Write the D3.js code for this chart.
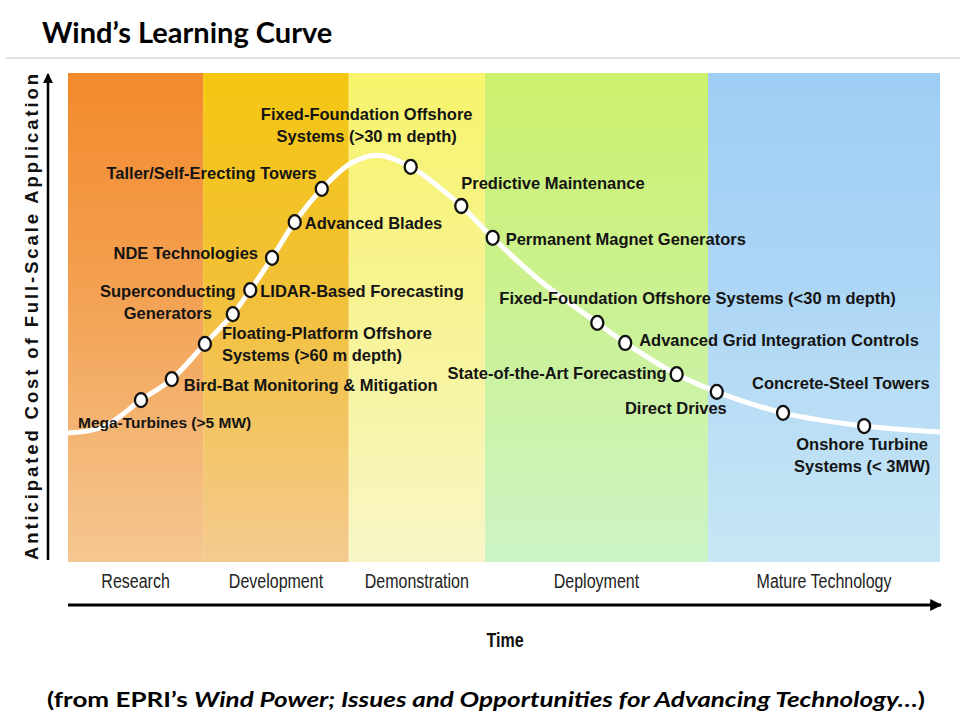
<!DOCTYPE html>
<html>
<head>
<meta charset="utf-8">
<script src="https://cdn.jsdelivr.net/npm/d3@7"></script>
<style>
  html, body { margin: 0; padding: 0; background: #fff; }
  svg { display: block; }
</style>
</head>
<body>
<script>
// ---------- DATA ----------
const stageNames = ["Research", "Development", "Demonstration", "Deployment", "Mature Technology"];
const stageStarts = [0, 15.5, 32.2, 47.8, 73.4];
const stageEnds   = [15.5, 32.2, 47.8, 73.4, 100];

// learning curve (time 0-100, anticipated cost 0-100)
const curveT    = [0, 4, 8.37, 11.9, 15.7, 18.9, 20.9, 23.4, 26.0, 29.1, 32.5, 35.5, 39.3, 45.1, 48.7, 54.5, 60.7, 63.9, 69.8, 74.4, 82.0, 91.3, 100];
const curveCost = [26.4, 27.6, 33.1, 37.4, 44.6, 50.7, 55.6, 62.2, 69.5, 76.3, 81.6, 83.2, 80.8, 72.8, 66.3, 57.0, 48.9, 44.8, 38.4, 34.8, 30.5, 27.8, 26.6];

// technology milestones on the curve
const techNames = [
  ["Mega-Turbines (>5 MW)"],
  ["Bird-Bat Monitoring & Mitigation"],
  ["Floating-Platform Offshore", "Systems (>60 m depth)"],
  ["Superconducting", "Generators"],
  ["LIDAR-Based Forecasting"],
  ["NDE Technologies"],
  ["Advanced Blades"],
  ["Taller/Self-Erecting Towers"],
  ["Fixed-Foundation Offshore", "Systems (>30 m depth)"],
  ["Predictive Maintenance"],
  ["Permanent Magnet Generators"],
  ["Fixed-Foundation Offshore Systems (<30 m depth)"],
  ["Advanced Grid Integration Controls"],
  ["State-of-the-Art Forecasting"],
  ["Direct Drives"],
  ["Concrete-Steel Towers"],
  ["Onshore Turbine", "Systems (< 3MW)"]
];
const techT    = [8.37, 11.9, 15.7, 18.9, 20.9, 23.4, 26.0, 29.1, 39.3, 45.1, 48.7, 60.7, 63.9, 69.8, 74.4, 82.0, 91.3];
const techCost = [33.1, 37.4, 44.6, 50.7, 55.6, 62.2, 69.5, 76.3, 80.8, 72.8, 66.3, 48.9, 44.8, 38.4, 34.8, 30.5, 27.8];

// ---------- LAYOUT / STYLE ----------
// label placement relative to the marker: [anchor, dx, dy, fontSize]
const labelLayout = [
  ["start", -63, 28, 15.5],
  ["start", 12, 12, 16.5],
  ["start", 17, -5, 16.5],
  ["middle", -65, -17, 16.5],
  ["start", 10, 7, 16.5],
  ["end", -14, 1, 16.5],
  ["start", 10, 7, 16.5],
  ["end", -5, -10, 16.5],
  ["middle", -44, -47, 16.5],
  ["start", 0, -17, 16.5],
  ["start", 13, 7, 16.5],
  ["start", -98, -19, 16.5],
  ["start", 14, 3, 16.5],
  ["end", -10, 5, 16.5],
  ["end", 10, 22, 16.5],
  ["start", -31, -24, 16.5],
  ["middle", -2, 24, 16.5]
];
const bandTop    = ["#f3892b", "#f4c711", "#f7f46c", "#ccf16c", "#9ecdf5"];
const bandMid    = ["#f3a152", "#f2c038", "#f7f391", "#cbf191", "#add6f5"];
const bandBottom = ["#f5c791", "#f4ca90", "#f8f6c6", "#cdf4c6", "#c8e7f5"];

const W = 960, H = 720;
const svg = d3.select("body").append("svg").attr("width", W).attr("height", H)
  .style("font-family", "'Liberation Sans', Arial, sans-serif");

const x = d3.scaleLinear().domain([0, 100]).range([68, 940]);
const y = d3.scaleLinear().domain([0, 100]).range([562, 73]);

// title
svg.append("text").attr("x", 42).attr("y", 43)
  .style("font-family", "Lato, 'Open Sans', sans-serif").style("font-weight", "700").style("font-size", "29px")
  .attr("fill", "#000").text("Wind\u2019s Learning Curve");
svg.append("line").attr("x1", 6).attr("x2", 960).attr("y1", 58).attr("y2", 58)
  .attr("stroke", "#e3e3e3").attr("stroke-width", 2);

// gradients
const defs = svg.append("defs");
stageNames.forEach((s, i) => {
  const g = defs.append("linearGradient").attr("id", "band" + i)
    .attr("x1", 0).attr("y1", 0).attr("x2", 0).attr("y2", 1);
  g.append("stop").attr("offset", "0%").attr("stop-color", bandTop[i]);
  g.append("stop").attr("offset", "45%").attr("stop-color", bandMid[i]);
  g.append("stop").attr("offset", "100%").attr("stop-color", bandBottom[i]);
});
const m = defs.append("marker").attr("id", "arrow").attr("viewBox", "0 0 10 10")
  .attr("refX", 9).attr("refY", 5).attr("markerWidth", 4).attr("markerHeight", 4)
  .attr("orient", "auto");
m.append("path").attr("d", "M0,0 L10,5 L0,10 Z").attr("fill", "#000");

// bands
svg.append("g").selectAll("rect").data(stageNames).join("rect")
  .attr("x", (d, i) => x(stageStarts[i]))
  .attr("width", (d, i) => x(stageEnds[i]) - x(stageStarts[i]))
  .attr("y", y(100)).attr("height", y(0) - y(100))
  .attr("fill", (d, i) => `url(#band${i})`);

// stage labels (condensed)
svg.append("g").selectAll("text").data(stageNames).join("text")
  .attr("transform", (d, i) => `translate(${x((stageStarts[i] + stageEnds[i]) / 2)},588) scale(0.8,1)`)
  .attr("text-anchor", "middle")
  .style("font-size", "20px").attr("fill", "#222")
  .text(d => d);

// axes arrows
svg.append("line").attr("x1", 48).attr("x2", 48).attr("y1", 560).attr("y2", 74)
  .attr("stroke", "#000").attr("stroke-width", 2.5).attr("marker-end", "url(#arrow)");
svg.append("line").attr("x1", 68).attr("x2", 941).attr("y1", 605).attr("y2", 605)
  .attr("stroke", "#000").attr("stroke-width", 3).attr("marker-end", "url(#arrow)");

svg.append("text")
  .attr("transform", "translate(38," + ((560 + 74) / 2) + ") rotate(-90)")
  .attr("text-anchor", "middle")
  .attr("textLength", 486).attr("lengthAdjust", "spacing")
  .style("font-weight", "700").style("font-size", "18.5px").attr("fill", "#111")
  .text("Anticipated Cost of Full-Scale Application");

svg.append("text").attr("transform", "translate(505,647) scale(0.8,1)").attr("text-anchor", "middle")
  .style("font-weight", "700").style("font-size", "20px").attr("fill", "#111").text("Time");

// curve
const curvePts = curveT.map((t, i) => [t, curveCost[i]]);
const line = d3.line().x(d => x(d[0])).y(d => y(d[1])).curve(d3.curveCatmullRom.alpha(0.5));
svg.append("path").attr("d", line(curvePts)).attr("fill", "none")
  .attr("stroke", "#fff").attr("stroke-width", 5).attr("stroke-linecap", "round");

// markers
svg.append("g").selectAll("ellipse").data(techNames).join("ellipse")
  .attr("cx", (d, i) => x(techT[i])).attr("cy", (d, i) => y(techCost[i]))
  .attr("rx", 6).attr("ry", 7)
  .attr("fill", "#fff").attr("stroke", "#111").attr("stroke-width", 2.3);

// labels
const lg = svg.append("g");
techNames.forEach((lines, i) => {
  const [anchor, dx, dy, fs] = labelLayout[i];
  const t = lg.append("text")
    .attr("x", x(techT[i]) + dx).attr("y", y(techCost[i]) + dy)
    .attr("text-anchor", anchor)
    .style("font-weight", "700").style("font-size", fs + "px").attr("fill", "#141414");
  lines.forEach((ln, j) => {
    t.append("tspan").attr("x", x(techT[i]) + dx).attr("dy", j === 0 ? 0 : 22).text(ln);
  });
});

// caption
const cap = svg.append("text").attr("x", 486).attr("y", 707).attr("text-anchor", "middle")
  .attr("textLength", 878).attr("lengthAdjust", "spacingAndGlyphs")
  .style("font-family", "Lato, 'Open Sans', sans-serif").style("font-weight", "700").style("font-size", "21px")
  .attr("fill", "#000");
cap.append("tspan").text("(from EPRI\u2019s ");
cap.append("tspan").style("font-style", "italic").text("Wind Power; Issues and Opportunities for Advancing Technology\u2026");
cap.append("tspan").text(")");
</script>
</body>
</html>
